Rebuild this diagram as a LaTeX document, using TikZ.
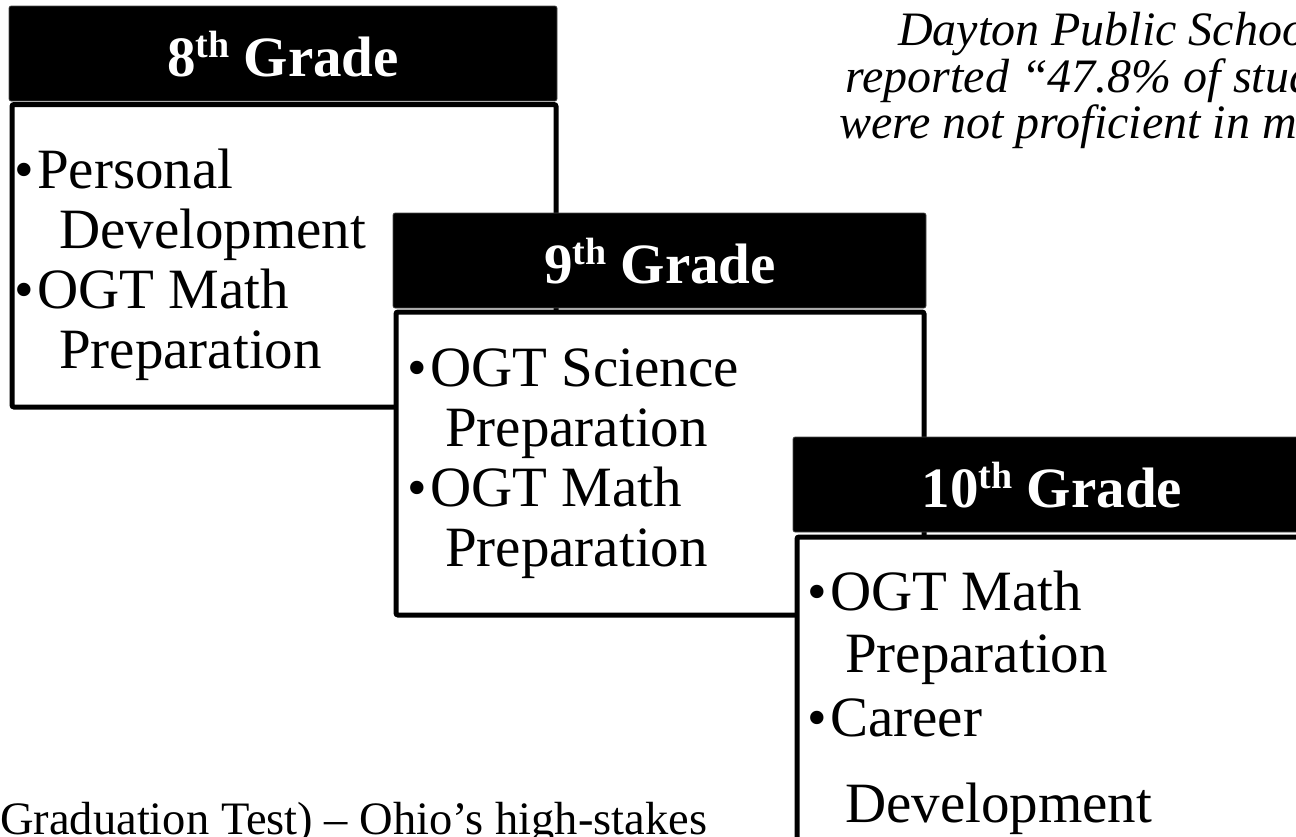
\documentclass[tikz,border=0pt]{standalone}
\usepackage{fontspec}
\setmainfont{Liberation Serif}
\newcommand{\supth}{\raisebox{0.33em}{\fontsize{38}{38}\selectfont th}}
\begin{document}
\begin{tikzpicture}[x=1pt,y=-1pt,
  head/.style={fill=black,draw=black!70,line width=0.6pt,rounded corners=2pt},
  body/.style={fill=white,draw=black,line width=5pt,rounded corners=2pt},
  htext/.style={text=white,font=\fontsize{57}{60}\selectfont\bfseries,anchor=base,inner sep=0pt},
  btext/.style={font=\fontsize{57}{60}\selectfont,anchor=base west,inner sep=0pt},
  bul/.style={font=\fontsize{56}{60}\selectfont,anchor=base west,inner sep=0pt},
  note/.style={font=\fontsize{48}{50}\selectfont\itshape,anchor=base,inner sep=0pt},
  foot/.style={font=\fontsize{46.5}{48}\selectfont,anchor=base west,inner sep=0pt}]
\useasboundingbox (0,0) rectangle (1296,836);
\begin{scope}
\clip (0,0) rectangle (1296,836);
% top right note
\node[note] (n1) at (1118,45) {Dayton Public Schools};
\node[note] (n2) at (1118,92) {reported ``47.8\% of students};
\node[note] (n3) at (1118,138) {were not proficient in math.''};
% 8th grade
\path[head] (9,6) rectangle (557,101);
\node[htext] (h8) at (283,76) {8\supth{} Grade};
\path[body] (12,104.5) rectangle (556,407);
\node[bul] (b8a) at (14,188) {•};
\node[btext] (t8a) at (37,188) {Personal};
\node[btext] (t8b) at (59,248) {Development};
\node[bul] (b8b) at (14,308) {•};
\node[btext] (t8c) at (37,308) {OGT Math};
\node[btext] (t8d) at (59,368) {Preparation};
% 9th grade
\path[head] (393,213) rectangle (926,308);
\node[htext] (h9) at (660,283) {9\supth{} Grade};
\path[body] (396,312) rectangle (924,615);
\node[bul] (b9a) at (407,386) {•};
\node[btext] (t9a) at (430,386) {OGT Science};
\node[btext] (t9b) at (445,446) {Preparation};
\node[bul] (b9b) at (407,506) {•};
\node[btext] (t9c) at (430,506) {OGT Math};
\node[btext] (t9d) at (445,566) {Preparation};
% 10th grade
\path[head] (793,437) rectangle (1312,532);
\node[htext] (h10) at (1052,507) {10\supth{} Grade};
\path[body] (797,537) rectangle (1312,860);
\node[bul] (b10a) at (807,610) {•};
\node[btext] (t10a) at (830,610) {OGT Math};
\node[btext] (t10b) at (845,672) {Preparation};
\node[bul] (b10b) at (807,736) {•};
\node[btext] (t10c) at (830,736) {Career};
\node[btext] (t10d) at (845,822) {Development};
% footnote
\node[foot] (ft) at (0,834) {Graduation Test) -- Ohio’s high-stakes};
\end{scope}
\end{tikzpicture}
\end{document}
